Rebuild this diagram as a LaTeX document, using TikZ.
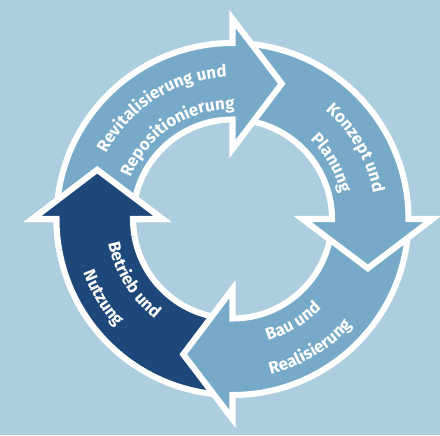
\documentclass[tikz,border=0pt]{standalone}
\usepackage{fontspec}
\setsansfont{Fira Sans}
\usepackage{tikz}
\usetikzlibrary{decorations.text}

\definecolor{bgblue}{RGB}{173,206,222}
\definecolor{lightarrow}{RGB}{118,170,200}
\definecolor{darkarrow}{RGB}{30,71,122}

% one ring arrow: start angle, head base angle, fill colour
\newcommand{\cyclearrow}[3]{%
  \filldraw[ringline, fill=#3]
    (#1:99.5) arc[start angle=#1, end angle=#2, radius=99.5]
    -- (#2:70) -- ({#2-20}:144) -- (#2:200) -- (#2:176)
    arc[start angle=#2, end angle=#1, radius=176] -- cycle;
}

\tikzset{
  ringline/.style={draw=white, line width=4.3pt, line join=miter},
  phasetext/.style={decorate, decoration={text along path, text align=center,
      text color=white, text={|\sffamily\bfseries\fontsize{12}{14}\selectfont|#1}}}
}

\begin{document}
\begin{tikzpicture}[x=0.025cm, y=0.025cm]
  \clip (-232.5,-216) rectangle (207.5,219);
  \fill[bgblue] (-232.5,-216) rectangle (207.5,219);

  % arrows, drawn so that each head lies on the next tail
  \foreach \a/\b/\c in {
    -94/-180/darkarrow,
    -4/-90/lightarrow,
    86/0/lightarrow,
    176/90/lightarrow%
  } { \cyclearrow{\a}{\b}{\c} }

  % head of the dark arrow once more, over the top tail
  \begin{scope}
    \clip (0,0) -- (190:300) -- (165:300) -- (140:300) -- cycle;
    \cyclearrow{-94}{-180}{darkarrow}
  \end{scope}

  % labels
  \path[phasetext={Revitalisierung und}] (167.5:142) arc[start angle=167.5, end angle=77.5, radius=142];
  \path[phasetext={Repositionierung}] (168.5:110) arc[start angle=168.5, end angle=78.5, radius=110];
  \path[phasetext={Konzept und}] (75:143) arc[start angle=75, end angle=-15, radius=143];
  \path[phasetext={Planung}] (74.5:111) arc[start angle=74.5, end angle=-15.5, radius=111];
  \path[phasetext={Bau und}] (-104.5:126.5) arc[start angle=-104.5, end angle=-14.5, radius=126.5];
  \path[phasetext={Realisierung}] (-104:160) arc[start angle=-104, end angle=-14, radius=160];
  \path[phasetext={Betrieb und}] (166.6:126.5) arc[start angle=166.6, end angle=256.6, radius=126.5];
  \path[phasetext={Nutzung}] (166.3:158.5) arc[start angle=166.3, end angle=256.3, radius=158.5];
\end{tikzpicture}
\end{document}
